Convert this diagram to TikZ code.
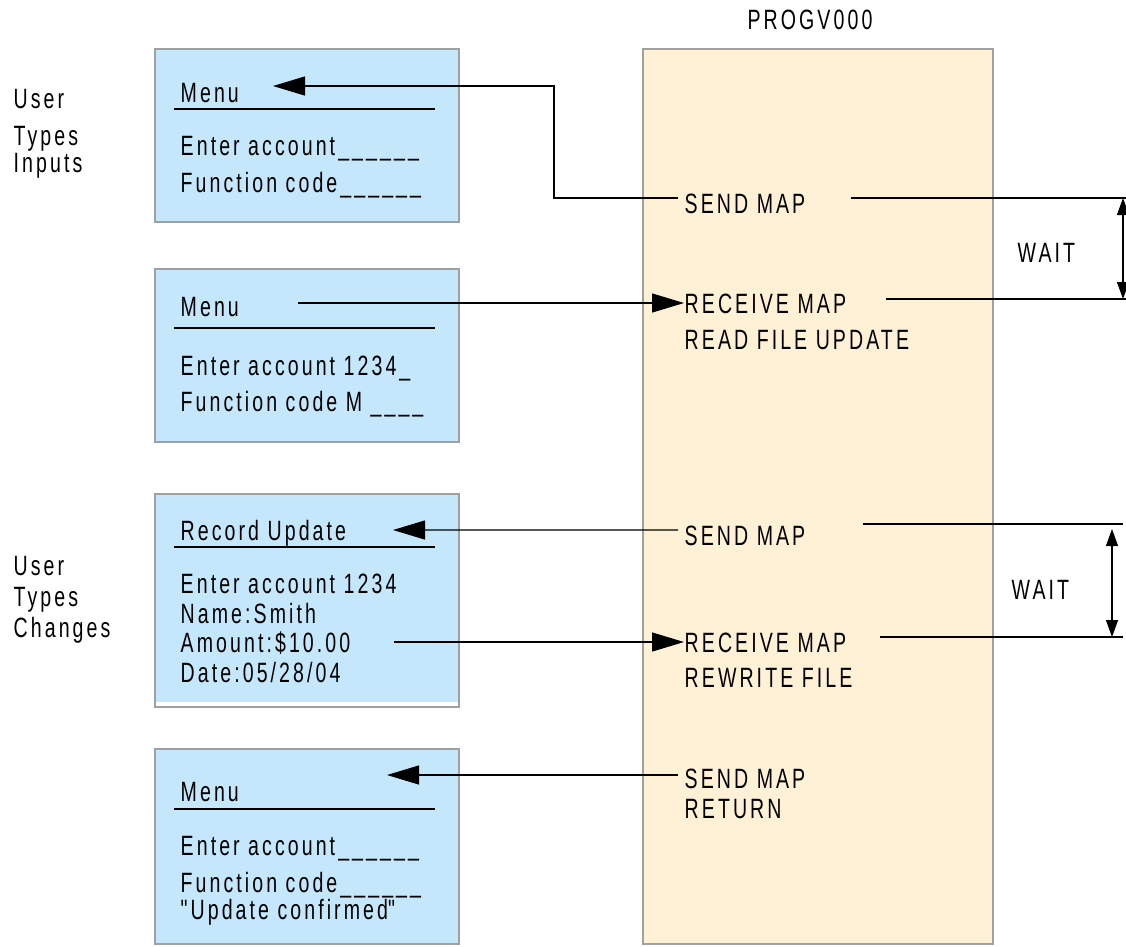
\documentclass[tikz,border=0pt]{standalone}
\usepackage{fontspec}
\setmainfont{Liberation Sans}[FakeStretch=0.7,LetterSpace=11]
\usepackage{tikz}
\usetikzlibrary{arrows.meta}
\definecolor{screenblue}{RGB}{197,231,251}
\definecolor{progtan}{RGB}{255,241,213}
\definecolor{edgegray}{RGB}{160,160,160}

\begin{document}
\begin{tikzpicture}[
    font=\fontsize{7.95}{9.5}\selectfont,
    lbl/.style={inner sep=0pt, anchor=west, text height=0.2cm, text depth=0pt},
    screen/.style={fill=screenblue, draw=edgegray, line width=0.3pt},
    conn/.style={line width=0.35pt},
    bigtip/.style={-{Triangle[length=0.32cm,width=0.19cm]}},
    waittip/.style={{Triangle[length=0.17cm,width=0.12cm]}-{Triangle[length=0.17cm,width=0.12cm]}}
  ]
  \useasboundingbox (0,0) rectangle (11.26,-9.46);

  % Program PROGV000
  \draw[fill=progtan, draw=edgegray, line width=0.3pt] (6.43,-0.49) rectangle (9.93,-9.44);
  \node[inner sep=0pt, text height=0.2cm, text depth=0pt] (prog) at (8.10,-0.19) {PROGV000};
  \node[lbl] (send1) at (6.84,-2.03) {SEND MAP};
  \node[lbl] (rec1) at (6.84,-3.03) {RECEIVE MAP};
  \node[lbl] (read1) at (6.84,-3.39) {READ FILE UPDATE};
  \node[lbl] (send2) at (6.84,-5.35) {SEND MAP};
  \node[lbl] (rec2) at (6.84,-6.42) {RECEIVE MAP};
  \node[lbl] (rewrite) at (6.84,-6.77) {REWRITE FILE};
  \node[lbl] (send3) at (6.84,-7.78) {SEND MAP};
  \node[lbl] (ret) at (6.84,-8.08) {RETURN};

  % User side labels
  \node[lbl] (user1) at (0.13,-0.98) {User};
  \node[lbl] (types1) at (0.13,-1.35) {Types};
  \node[lbl] (inputs) at (0.13,-1.62) {Inputs};
  \node[lbl] (user2) at (0.13,-5.65) {User};
  \node[lbl] (types2) at (0.13,-5.96) {Types};
  \node[lbl] (changes) at (0.13,-6.27) {Changes};

  % Screen 1
  \draw[screen] (1.55,-0.49) rectangle (4.59,-2.22);
  \node[lbl] (menu1) at (1.80,-0.92) {Menu};
  \draw[conn] (1.74,-1.09) -- (4.35,-1.09);
  \node[lbl] (acct1) at (1.80,-1.45) {Enter account\_\_\_\_\_\_};
  \node[lbl] (code1) at (1.80,-1.82) {Function code\_\_\_\_\_\_};

  % Screen 2
  \draw[screen] (1.55,-2.69) rectangle (4.59,-4.42);
  \node[lbl] (menu2) at (1.80,-3.06) {Menu};
  \draw[conn] (1.74,-3.28) -- (4.35,-3.28);
  \node[lbl] (acct2) at (1.80,-3.65) {Enter account 1234\_};
  \node[lbl] (code2) at (1.80,-4.01) {Function code M \_\_\_\_};

  % Screen 3
  \fill[screenblue] (1.55,-4.94) rectangle (4.59,-7.02);
  \draw[draw=edgegray, line width=0.3pt] (1.55,-4.94) rectangle (4.59,-7.07);
  \node[lbl] (rec3) at (1.80,-5.30) {Record Update};
  \draw[conn] (1.74,-5.47) -- (4.35,-5.47);
  \node[lbl] (acct3) at (1.80,-5.83) {Enter account 1234};
  \node[lbl] (name) at (1.80,-6.13) {Name:Smith};
  \node[lbl] (amount) at (1.80,-6.42) {Amount:\$10.00};
  \node[lbl] (date) at (1.80,-6.72) {Date:05/28/04};

  % Screen 4
  \draw[screen] (1.55,-7.49) rectangle (4.59,-9.44);
  \node[lbl] (menu4) at (1.80,-7.91) {Menu};
  \draw[conn] (1.74,-8.09) -- (4.35,-8.09);
  \node[lbl] (acct4) at (1.80,-8.45) {Enter account\_\_\_\_\_\_};
  \node[lbl] (code4) at (1.80,-8.82) {Function code\_\_\_\_\_\_};
  \node[lbl] (confirm) at (1.80,-9.09) {\textquotedbl Update confirmed\textquotedbl};

  % arrow ends
  \coordinate (tip1) at (2.73,-0.86);
  \coordinate (out2) at (2.98,-3.03);
  \coordinate (tip3) at (3.93,-5.30);
  \coordinate (out4) at (3.94,-6.42);
  \coordinate (tip5) at (3.87,-7.75);

  \draw[conn,bigtip,shorten <=0.06cm] ([yshift=0.05cm]send1.west) -- ++(-1.30,0) |- (tip1);
  \draw[conn,bigtip] (out2) -- (rec1.west);
  \draw[conn,bigtip,shorten <=0.06cm] ([yshift=0.05cm]send2.west) -- (tip3);
  \draw[conn,bigtip] (out4) -- (rec2.west);
  \draw[conn,bigtip,shorten <=0.06cm] ([yshift=0.03cm]send3.west) -- (tip5);

  % Wait periods
  \coordinate (w1a) at (11.23,-1.98);
  \coordinate (w1b) at (11.23,-2.99);
  \coordinate (w2a) at (11.12,-5.24);
  \coordinate (w2b) at (11.12,-6.37);
  \draw[conn] (8.51,-1.98) -- (11.26,-1.98);
  \draw[conn] (8.86,-2.99) -- (11.26,-2.99);
  \draw[conn,waittip] (w1a) -- (w1b);
  \node[lbl] (wait1) at (10.17,-2.52) {WAIT};
  \draw[conn] (8.63,-5.24) -- (11.23,-5.24);
  \draw[conn] (8.80,-6.37) -- (11.23,-6.37);
  \draw[conn,waittip] ([yshift=-0.05cm]w2a) -- (w2b);
  \node[lbl] (wait2) at (10.11,-5.89) {WAIT};
\end{tikzpicture}
\end{document}
